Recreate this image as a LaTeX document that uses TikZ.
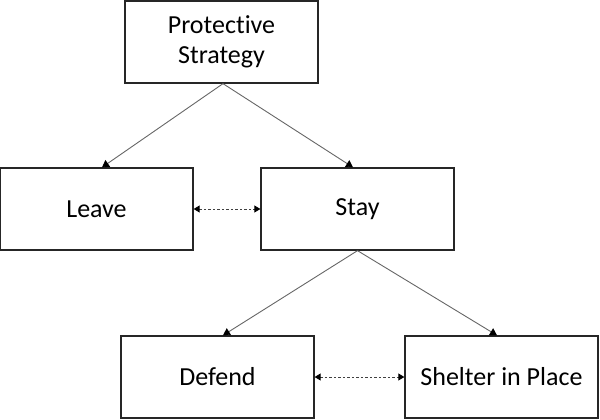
\documentclass[tikz,border=0pt]{standalone}
\usepackage{fontspec}
\setmainfont[Ligatures=CommonOff]{Carlito}
\usetikzlibrary{arrows.meta,calc}
\begin{document}
\begin{tikzpicture}[x=1pt,y=-1pt,
  box/.style={draw=black!85,line width=1.3pt,minimum width=193pt,minimum height=82pt,inner sep=0pt,align=center,font=\fontsize{26}{30}\selectfont},
  link/.style={draw=black!60,line width=0.9pt,-{Triangle[length=7pt,width=8pt,color=black]}},
  alt/.style={draw=black!75,line width=0.9pt,dash pattern=on 2.5pt off 2pt,{Triangle[length=6pt,width=7pt,color=black]}-{Triangle[length=6pt,width=7pt,color=black]}}]
\useasboundingbox (0,0) rectangle (600,420);
\node[box] (ps) at (221.5,42) {Protective\\Strategy};
\node[box] (leave) at (96.5,209) {Leave};
\node[box] (stay) at (357.5,209) {Stay};
\node[box] (defend) at (217.5,377) {Defend};
\node[box] (shelter) at (501.5,377) {Shelter in Place};
\draw[link] ([xshift=1.5pt]ps.south) -- ([xshift=5.5pt]leave.north);
\draw[link] ([xshift=1.5pt]ps.south) -- ([xshift=-4.5pt]stay.north);
\draw[link] (stay.south) -- ([xshift=5.5pt]defend.north);
\draw[link] (stay.south) -- ([xshift=-4.5pt]shelter.north);
\draw[alt] (leave.east) -- (stay.west);
\draw[alt] (defend.east) -- (shelter.west);
\end{tikzpicture}
\end{document}
